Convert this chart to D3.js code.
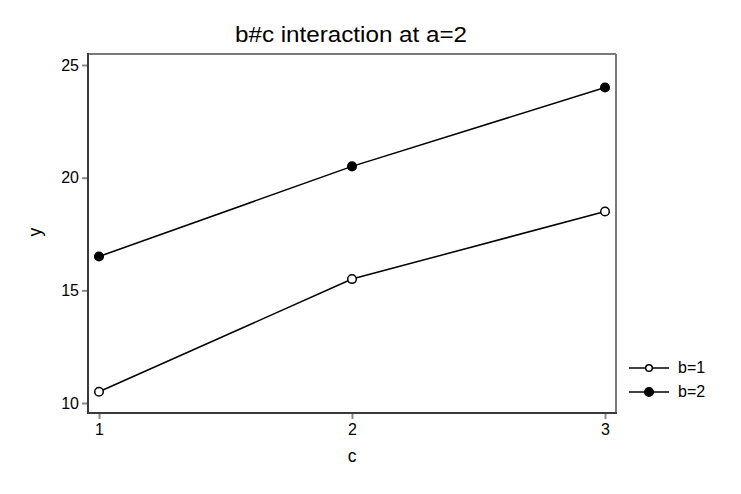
<!DOCTYPE html>
<html><head><meta charset="utf-8">
<script src="https://cdn.jsdelivr.net/npm/d3@7"></script>
<style>body{margin:0;background:#fff;font-family:"Liberation Sans",Arial,Helvetica,sans-serif;}</style>
</head><body>
<svg id="chart" width="741" height="494"></svg>
<script>
const categories = [1, 2, 3];
const seriesNames = ["b=1", "b=2"];
const b1Values = [10.5, 15.5, 18.5];
const b2Values = [16.5, 20.5, 24];
const yTicks = [10, 15, 20, 25];
const title = "b#c interaction at a=2";

(function () {
const svg = d3.select("#chart");
const pLeft = 88, pRight = 616, pTop = 54, pBottom = 413;
const x = d3.scaleLinear().domain([1, 3]).range([99, 605]);
const y = d3.scaleLinear().domain([10, 25]).range([403, 65]);
const font = "Liberation Sans, Arial, sans-serif";

svg.append("rect").attr("width", 741).attr("height", 494).attr("fill", "#fff");

// frame
svg.append("line").attr("x1", pLeft).attr("x2", pRight).attr("y1", pTop).attr("y2", pTop).attr("stroke", "#7a7a7a").attr("stroke-width", 2);
svg.append("line").attr("x1", pRight).attr("x2", pRight).attr("y1", pTop).attr("y2", pBottom).attr("stroke", "#7a7a7a").attr("stroke-width", 2);

// axes
const yAxis = d3.axisLeft(y).tickValues(yTicks).tickFormat(d3.format("d")).tickSize(6).tickPadding(3);
const gy = svg.append("g").attr("transform", `translate(${pLeft},0)`).call(yAxis);
const xAxis = d3.axisBottom(x).tickValues(categories).tickFormat(d3.format("d")).tickSize(6).tickPadding(5);
const gx = svg.append("g").attr("transform", `translate(0,${pBottom})`).call(xAxis);
[gy, gx].forEach(g => {
  g.attr("font-size", 16).attr("font-family", font);
  g.select(".domain").remove();
  g.selectAll(".tick line").attr("stroke", "#8a8a8a").attr("stroke-width", 2);
  g.selectAll(".tick text").attr("font-size", 16).attr("fill", "#000").attr("font-family", font);
});
svg.append("line").attr("x1", pLeft).attr("x2", pLeft).attr("y1", pTop - 1).attr("y2", pBottom + 1).attr("stroke", "#3a3a3a").attr("stroke-width", 2);
svg.append("line").attr("x1", pLeft - 1).attr("x2", pRight + 1).attr("y1", pBottom).attr("y2", pBottom).attr("stroke", "#3a3a3a").attr("stroke-width", 2);

// lines
const series = [
  {name: seriesNames[0], values: b1Values, fill: "#fff"},
  {name: seriesNames[1], values: b2Values, fill: "#000"}
];
const line = d3.line().x((d, i) => x(categories[i])).y(d => y(d));
series.forEach(s => {
  svg.append("path").datum(s.values).attr("d", line).attr("fill", "none").attr("stroke", "#000").attr("stroke-width", 1.5);
  svg.selectAll(null).data(s.values).enter().append("circle")
    .attr("cx", (d, i) => x(categories[i])).attr("cy", d => y(d)).attr("r", 4.3)
    .attr("fill", s.fill).attr("stroke", "#000").attr("stroke-width", 1.5);
});

// title
svg.append("text").attr("x", 351).attr("y", 42).attr("text-anchor", "middle").attr("font-size", 22)
  .attr("textLength", 232).attr("lengthAdjust", "spacingAndGlyphs").attr("fill", "#000").text(title);
// axis titles
svg.append("text").attr("x", 352).attr("y", 462).attr("text-anchor", "middle").attr("font-size", 17.5).text("c");
svg.append("text").attr("transform", "translate(40.5,232) rotate(-90)").attr("text-anchor", "middle").attr("font-size", 17.5).text("y");

// legend
series.forEach((s, i) => {
  const ly = 368 + i * 24;
  svg.append("line").attr("x1", 629).attr("x2", 669).attr("y1", ly).attr("y2", ly).attr("stroke", "#000").attr("stroke-width", 1.5);
  svg.append("circle").attr("cx", 649).attr("cy", ly).attr("r", i === 0 ? 3.3 : 4.3).attr("fill", s.fill).attr("stroke", "#000").attr("stroke-width", 1.5);
  svg.append("text").attr("x", 678).attr("y", ly + 5).attr("font-size", 16).attr("fill", "#000").text(s.name);
});
})();
</script>
</body></html>
